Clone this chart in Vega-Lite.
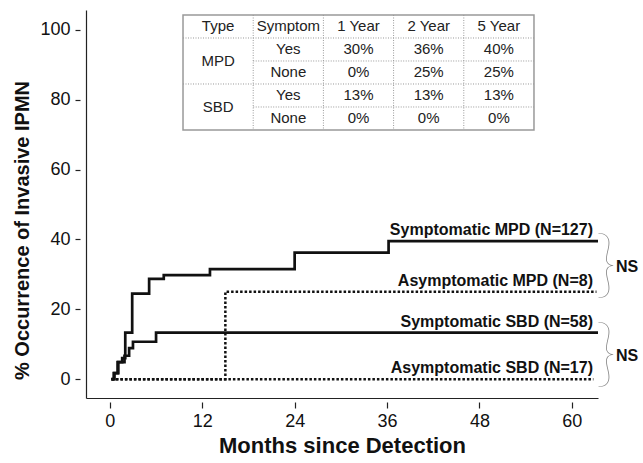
{
  "$schema": "https://vega.github.io/schema/vega-lite/v6.json",
  "width": 512,
  "height": 388,
  "autosize": {"type": "none"},
  "padding": {"left": 86, "top": 10, "right": 45, "bottom": 65},
  "config": {
    "view": {"stroke": null},
    "font": "Liberation Sans",
    "axis": {"labelColor": "#111", "titleColor": "#111", "domainColor": "#222", "tickColor": "#222", "grid": false}
  },
  "datasets": {
    "curves": [
      {"series": "Symptomatic MPD", "kind": "Symptomatic", "month": 0.2, "pct": 0},
      {"series": "Symptomatic MPD", "kind": "Symptomatic", "month": 0.5, "pct": 1.7},
      {"series": "Symptomatic MPD", "kind": "Symptomatic", "month": 1.0, "pct": 4.9},
      {"series": "Symptomatic MPD", "kind": "Symptomatic", "month": 1.6, "pct": 6.0},
      {"series": "Symptomatic MPD", "kind": "Symptomatic", "month": 2.0, "pct": 13.3},
      {"series": "Symptomatic MPD", "kind": "Symptomatic", "month": 2.9, "pct": 24.5},
      {"series": "Symptomatic MPD", "kind": "Symptomatic", "month": 5.1, "pct": 28.7},
      {"series": "Symptomatic MPD", "kind": "Symptomatic", "month": 7.0, "pct": 29.8},
      {"series": "Symptomatic MPD", "kind": "Symptomatic", "month": 13.0, "pct": 31.5},
      {"series": "Symptomatic MPD", "kind": "Symptomatic", "month": 24.0, "pct": 36.2},
      {"series": "Symptomatic MPD", "kind": "Symptomatic", "month": 36.2, "pct": 39.5},
      {"series": "Symptomatic MPD", "kind": "Symptomatic", "month": 63.4, "pct": 39.5},
      {"series": "Symptomatic SBD", "kind": "Symptomatic", "month": 0.2, "pct": 0},
      {"series": "Symptomatic SBD", "kind": "Symptomatic", "month": 0.6, "pct": 1.7},
      {"series": "Symptomatic SBD", "kind": "Symptomatic", "month": 1.1, "pct": 4.9},
      {"series": "Symptomatic SBD", "kind": "Symptomatic", "month": 1.9, "pct": 6.7},
      {"series": "Symptomatic SBD", "kind": "Symptomatic", "month": 2.5, "pct": 8.9},
      {"series": "Symptomatic SBD", "kind": "Symptomatic", "month": 3.0, "pct": 10.7},
      {"series": "Symptomatic SBD", "kind": "Symptomatic", "month": 6.0, "pct": 13.3},
      {"series": "Symptomatic SBD", "kind": "Symptomatic", "month": 63.4, "pct": 13.3},
      {"series": "Asymptomatic MPD", "kind": "Asymptomatic", "month": 0.2, "pct": 0},
      {"series": "Asymptomatic MPD", "kind": "Asymptomatic", "month": 15.0, "pct": 25},
      {"series": "Asymptomatic MPD", "kind": "Asymptomatic", "month": 63.2, "pct": 25},
      {"series": "Asymptomatic SBD", "kind": "Asymptomatic", "month": 0.2, "pct": 0},
      {"series": "Asymptomatic SBD", "kind": "Asymptomatic", "month": 62.8, "pct": 0}
    ],
    "labels": [
      {"label": "Symptomatic MPD (N=127)", "month": 63.4, "pct": 39.5},
      {"label": "Asymptomatic MPD (N=8)", "month": 63.4, "pct": 25},
      {"label": "Symptomatic SBD (N=58)", "month": 63.4, "pct": 13.3},
      {"label": "Asymptomatic SBD (N=17)", "month": 63.4, "pct": 0}
    ],
    "ns": [
      {"pair": "MPD", "label": "NS", "month": 63.4, "pct": 32.25},
      {"pair": "SBD", "label": "NS", "month": 63.4, "pct": 6.65}
    ],
    "table_text": [
      {"c": 0.5, "r": 0.5, "text": "Type"},
      {"c": 1.5, "r": 0.5, "text": "Symptom"},
      {"c": 2.5, "r": 0.5, "text": "1 Year"},
      {"c": 3.5, "r": 0.5, "text": "2 Year"},
      {"c": 4.5, "r": 0.5, "text": "5 Year"},
      {"c": 0.5, "r": 2, "text": "MPD"},
      {"c": 1.5, "r": 1.5, "text": "Yes"},
      {"c": 2.5, "r": 1.5, "text": "30%"},
      {"c": 3.5, "r": 1.5, "text": "36%"},
      {"c": 4.5, "r": 1.5, "text": "40%"},
      {"c": 1.5, "r": 2.5, "text": "None"},
      {"c": 2.5, "r": 2.5, "text": "0%"},
      {"c": 3.5, "r": 2.5, "text": "25%"},
      {"c": 4.5, "r": 2.5, "text": "25%"},
      {"c": 0.5, "r": 4, "text": "SBD"},
      {"c": 1.5, "r": 3.5, "text": "Yes"},
      {"c": 2.5, "r": 3.5, "text": "13%"},
      {"c": 3.5, "r": 3.5, "text": "13%"},
      {"c": 4.5, "r": 3.5, "text": "13%"},
      {"c": 1.5, "r": 4.5, "text": "None"},
      {"c": 2.5, "r": 4.5, "text": "0%"},
      {"c": 3.5, "r": 4.5, "text": "0%"},
      {"c": 4.5, "r": 4.5, "text": "0%"}
    ],
    "table_lines": [
      {"x0": 0, "x1": 5, "y0": 1, "y1": 1},
      {"x0": 1, "x1": 5, "y0": 2, "y1": 2},
      {"x0": 0, "x1": 5, "y0": 3, "y1": 3},
      {"x0": 1, "x1": 5, "y0": 4, "y1": 4},
      {"x0": 1, "x1": 1, "y0": 0, "y1": 5},
      {"x0": 2, "x1": 2, "y0": 0, "y1": 5},
      {"x0": 3, "x1": 3, "y0": 0, "y1": 5},
      {"x0": 4, "x1": 4, "y0": 0, "y1": 5}
    ],
    "table_border": [
      {"x0": 0, "x1": 5, "y0": 0, "y1": 5}
    ]
  },
  "layer": [
    {
      "layer": [
        {
          "data": {"name": "curves"},
          "transform": [{"filter": "datum.kind === 'Symptomatic'"}],
          "mark": {"type": "line", "interpolate": "step-after", "color": "#111", "strokeWidth": 2.7},
          "encoding": {
            "x": {"field": "month", "type": "quantitative",
                  "scale": {"domain": [-3.1, 63.4], "nice": false, "zero": false},
                  "axis": {"orient": "bottom", "ticks": false, "labels": false, "title": null, "domain": true, "domainWidth": 1.2}},
            "y": {"field": "pct", "type": "quantitative",
                  "scale": {"domain": [-5.4, 105.7], "nice": false, "zero": false},
                  "axis": {"orient": "left", "ticks": false, "labels": false, "title": null, "domain": true, "domainWidth": 1.2}},
            "detail": {"field": "series"}
          }
        },
        {
          "data": {"name": "curves"},
          "transform": [{"filter": "datum.kind === 'Asymptomatic'"}],
          "mark": {"type": "line", "interpolate": "step-after", "color": "#111", "strokeWidth": 2.5, "strokeDash": [2.5, 2]},
          "encoding": {
            "x": {"field": "month", "type": "quantitative", "axis": null},
            "y": {"field": "pct", "type": "quantitative", "axis": null},
            "detail": {"field": "series"}
          }
        },
        {
          "data": {"name": "labels"},
          "mark": {"type": "text", "align": "right", "baseline": "alphabetic", "dx": -5, "dy": -6, "fontSize": 16, "fontWeight": "bold", "color": "#111"},
          "encoding": {
            "x": {"field": "month", "type": "quantitative",
                  "axis": {"orient": "bottom", "values": [0, 12, 24, 36, 48, 60], "domain": false, "offset": 4, "tickSize": 6, "tickWidth": 1.2,
                           "labelFontSize": 18, "labelPadding": 4, "title": "Months since Detection", "titleFontSize": 22, "titleFontWeight": "bold", "titlePadding": 5}},
            "y": {"field": "pct", "type": "quantitative",
                  "axis": {"orient": "left", "values": [0, 20, 40, 60, 80, 100], "domain": false, "offset": 6, "tickSize": 5, "tickWidth": 1.2,
                           "labelFontSize": 18, "labelPadding": 5, "title": "% Occurrence of Invasive IPMN", "titleFontSize": 20, "titleFontWeight": "bold", "titlePadding": 7, "titleY": 220}},
            "text": {"field": "label"}
          }
        },
        {
          "data": {"name": "ns"},
          "mark": {"type": "text", "text": "}", "font": "Lato", "fontWeight": 100, "fontSize": 74, "color": "#888", "align": "center", "baseline": "middle", "dx": 8},
          "encoding": {
            "x": {"field": "month", "type": "quantitative", "axis": null},
            "y": {"field": "pct", "type": "quantitative", "axis": null}
          }
        },
        {
          "data": {"name": "ns"},
          "mark": {"type": "text", "align": "left", "baseline": "middle", "dx": 18, "fontSize": 16, "fontWeight": "bold", "color": "#111"},
          "encoding": {
            "x": {"field": "month", "type": "quantitative", "axis": null},
            "y": {"field": "pct", "type": "quantitative", "axis": null},
            "text": {"field": "label"}
          }
        }
      ],
      "resolve": {"axis": {"x": "independent", "y": "independent"}}
    },
    {
      "layer": [
        {
          "data": {"name": "table_border"},
          "mark": {"type": "rect", "fill": null, "stroke": "#999", "strokeWidth": 1.5},
          "encoding": {
            "x": {"field": "x0", "type": "quantitative", "scale": {"domain": [-1.382, 5.912], "nice": false, "zero": false}, "axis": null},
            "x2": {"field": "x1"},
            "y": {"field": "y0", "type": "quantitative", "scale": {"domain": [-0.217, 16.652], "nice": false, "zero": false, "reverse": true}, "axis": null},
            "y2": {"field": "y1"}
          }
        },
        {
          "data": {"name": "table_lines"},
          "mark": {"type": "rule", "color": "#999", "strokeWidth": 1, "strokeDash": [1, 1.5]},
          "encoding": {
            "x": {"field": "x0", "type": "quantitative", "axis": null},
            "x2": {"field": "x1"},
            "y": {"field": "y0", "type": "quantitative", "axis": null},
            "y2": {"field": "y1"}
          }
        },
        {
          "data": {"name": "table_text"},
          "mark": {"type": "text", "align": "center", "baseline": "middle", "fontSize": 15, "color": "#222"},
          "encoding": {
            "x": {"field": "c", "type": "quantitative", "axis": null},
            "y": {"field": "r", "type": "quantitative", "axis": null},
            "text": {"field": "text"}
          }
        }
      ]
    }
  ],
  "resolve": {"scale": {"x": "independent", "y": "independent"}}
}
